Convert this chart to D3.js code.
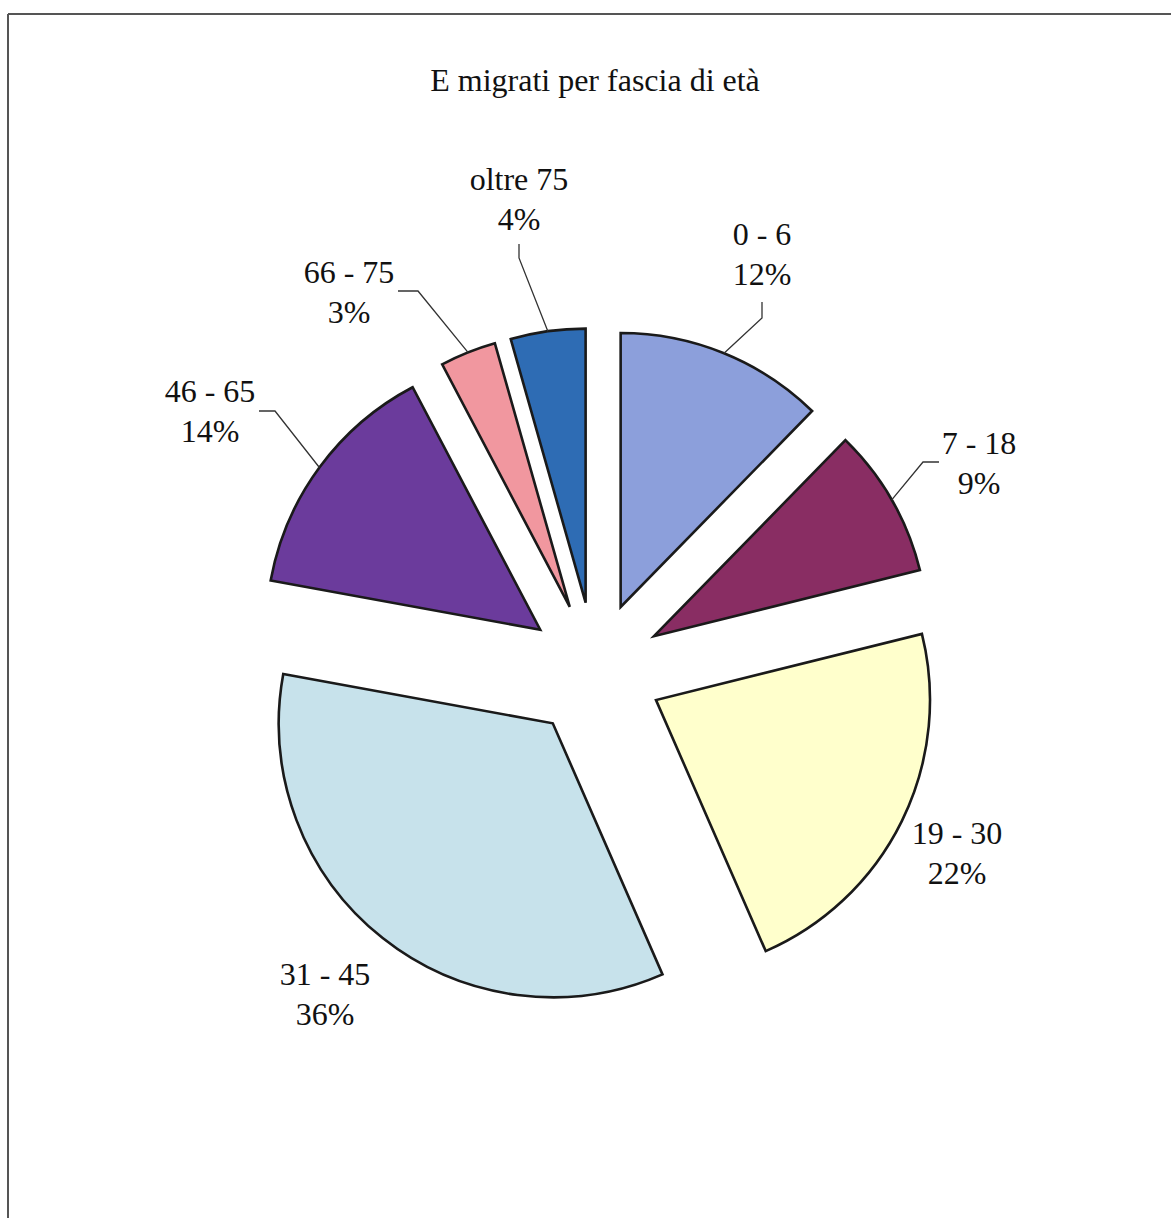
<!DOCTYPE html>
<html>
<head>
<meta charset="utf-8">
<script src="https://cdn.jsdelivr.net/npm/d3@7"></script>
<style>
  html, body { margin: 0; padding: 0; background: #fff; }
  svg { display: block; }
</style>
</head>
<body>
<svg id="chart" width="1171" height="1218"></svg>
<script>
// ---- data ----
const categories = ["0 - 6", "7 - 18", "19 - 30", "31 - 45", "46 - 65", "66 - 75", "oltre 75"];
const values = [12.3, 8.8, 22.3, 34.4, 14.4, 3.3, 4.4];
const percentLabels = ["12%", "9%", "22%", "36%", "14%", "3%", "4%"];
const colors = ["#8c9fdb", "#892d63", "#ffffcc", "#c7e2eb", "#6b3b9c", "#f1979f", "#2e6cb4"];
const title = "E migrati per fascia di età";

// ---- layout ----
const W = 1171, H = 1218;
const cx = 595, cy = 670, R = 274, explode = 68;
const fontFamily = "'Liberation Serif', 'Times New Roman', serif";
const fontSize = 32, lineGap = 40;
// label anchor (centre x, baseline of first line) and leader line elbow points
const labelLayout = [
  { x: 762, y: 245, leader: [[762, 302], [762, 318]] },
  { x: 979, y: 454, leader: [[939, 462], [923, 462]] },
  { x: 957, y: 844, leader: null },
  { x: 325, y: 985, leader: null },
  { x: 210, y: 402, leader: [[259, 411], [275, 411]] },
  { x: 349, y: 283, leader: [[398, 291], [418, 291]] },
  { x: 519, y: 190, leader: [[519, 244], [519, 258]] }
];

const svg = d3.select("#chart");

// frame
svg.append("line").attr("x1", 8).attr("y1", 14).attr("x2", W).attr("y2", 14)
  .attr("stroke", "#555").attr("stroke-width", 2);
svg.append("line").attr("x1", 8).attr("y1", 14).attr("x2", 8).attr("y2", H)
  .attr("stroke", "#555").attr("stroke-width", 2);

// title
svg.append("text").attr("x", cx).attr("y", 91)
  .attr("text-anchor", "middle")
  .attr("font-family", fontFamily).attr("font-size", 32)
  .attr("fill", "#111").text(title);

const data = categories.map((c, i) => ({ cat: c, value: values[i], pct: percentLabels[i], color: colors[i], idx: i }));
const pie = d3.pie().value(d => d.value).sort(null);
const arcs = pie(data);
const arc = d3.arc().innerRadius(0).outerRadius(R);

const g = svg.append("g").attr("transform", `translate(${cx},${cy})`);

function offsetOf(a) {
  const mid = (a.startAngle + a.endAngle) / 2;
  return [Math.sin(mid) * explode, -Math.cos(mid) * explode];
}

g.selectAll("path.slice").data(arcs).join("path")
  .attr("class", "slice")
  .attr("d", arc)
  .attr("transform", d => { const o = offsetOf(d); return `translate(${o[0]},${o[1]})`; })
  .attr("fill", d => d.data.color)
  .attr("stroke", "#1a1a1a")
  .attr("stroke-width", 2.6)
  .attr("stroke-linejoin", "miter");

// leader lines (to outer midpoint of each slice)
arcs.forEach((a, i) => {
  const L = labelLayout[i];
  if (!L.leader) return;
  const mid = (a.startAngle + a.endAngle) / 2;
  const o = offsetOf(a);
  const ex = cx + o[0] + Math.sin(mid) * R;
  const ey = cy + o[1] - Math.cos(mid) * R;
  const pts = L.leader.concat([[ex, ey]]);
  svg.append("path")
    .attr("d", d3.line()(pts))
    .attr("fill", "none")
    .attr("stroke", "#333")
    .attr("stroke-width", 1.3);
});

// labels
arcs.forEach((a, i) => {
  const L = labelLayout[i];
  const t = svg.append("text")
    .attr("text-anchor", "middle")
    .attr("font-family", fontFamily)
    .attr("font-size", fontSize)
    .attr("fill", "#111");
  t.append("tspan").attr("x", L.x).attr("y", L.y).text(a.data.cat);
  t.append("tspan").attr("x", L.x).attr("y", L.y + lineGap).text(a.data.pct);
});
</script>
</body>
</html>
